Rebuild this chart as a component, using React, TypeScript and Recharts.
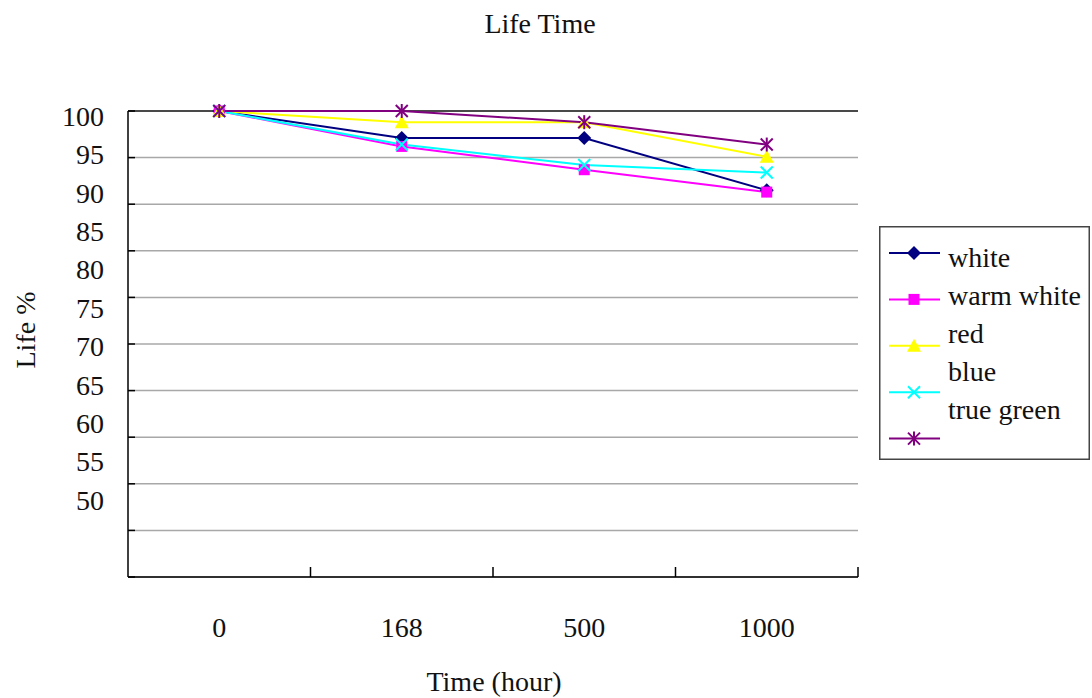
import { CartesianGrid, Legend, Line, LineChart, ReferenceLine, XAxis, YAxis } from "recharts";

const times = ["0", "168", "500", "1000"];
const seriesNames = ["white", "warm white", "red", "blue", "true green"];
const white = [100, 97.1, 97.1, 91.5];
const warmWhite = [100, 96.2, 93.7, 91.3];
const red = [100, 98.8, 98.8, 95.1];
const blue = [100, 96.4, 94.2, 93.4];
const trueGreen = [100, 100, 98.8, 96.4];
const yTicks = [100, 95, 90, 85, 80, 75, 70, 65, 60, 55, 50];

const seriesValues = [white, warmWhite, red, blue, trueGreen];
const seriesColors = ["#000080", "#ff00ff", "#ffff00", "#00ffff", "#800080"];
const seriesShapes = ["diamond", "square", "triangle", "cross", "star"];

const data = times.map((time, i) => {
  const row: Record<string, string | number> = { time };
  seriesNames.forEach((name, s) => {
    row[name] = seriesValues[s][i];
  });
  return row;
});

const FONT = "Liberation Serif, serif";
const W = 1092;
const H = 698;
const PLOT_TOP = 111;
const PLOT_LEFT = 128;
const PLOT_RIGHT = 858;
const PLOT_BOTTOM = 577;
const HALF_BAND = (PLOT_RIGHT - PLOT_LEFT) / times.length / 2;

const Marker = ({ shape, color, cx, cy }: { shape: string; color: string; cx: number; cy: number }) => {
  if (shape === "diamond")
    return <polygon points={`${cx},${cy - 7} ${cx + 7},${cy} ${cx},${cy + 7} ${cx - 7},${cy}`} fill={color} />;
  if (shape === "square") return <rect x={cx - 5.5} y={cy - 5.5} width={11} height={11} fill={color} />;
  if (shape === "triangle")
    return <polygon points={`${cx},${cy - 7} ${cx + 7},${cy + 6} ${cx - 7},${cy + 6}`} fill={color} />;
  return (
    <g stroke={color} strokeWidth={2}>
      <line x1={cx - 6} y1={cy - 6} x2={cx + 6} y2={cy + 6} />
      <line x1={cx - 6} y1={cy + 6} x2={cx + 6} y2={cy - 6} />
      {shape === "star" ? <line x1={cx} y1={cy - 7} x2={cx} y2={cy + 7} /> : null}
    </g>
  );
};

const YTick = (props: any) => {
  const { x, y, payload } = props;
  // labels in the original are squeezed closer than the grid lines
  const ly = PLOT_TOP + 5 + (y - PLOT_TOP) * 0.824;
  return (
    <g>
      <line x1={x} y1={y} x2={x + 7} y2={y} stroke="#000" strokeWidth={1.5} />
      <text x={x - 24} y={ly} dy="0.35em" textAnchor="end" fontFamily="serif" fontSize={28} fill="#111">
        {payload.value}
      </text>
    </g>
  );
};

const XTick = (props: any) => {
  const { x, y, payload } = props;
  return (
    <g>
      <line x1={x + HALF_BAND} y1={y} x2={x + HALF_BAND} y2={y - 10} stroke="#000" strokeWidth={1.5} />
      <text x={x} y={y + 50} dy="0.35em" textAnchor="middle" fontFamily="Liberation Serif" fontSize={28} fill="#111">
        {payload.value}
      </text>
    </g>
  );
};

const LegendBox = () => (
  <svg width={211} height={234} style={{ display: "block" }}>
    <rect x={0.75} y={0.75} width={209.5} height={232.5} fill="#fff" stroke="#444" strokeWidth={1.5} />
    {seriesNames.map((name, i) => {
      const iy = 27 + i * 46.4;
      const ty = 31 + i * 38;
      return (
        <g key={name}>
          <line x1={10} y1={iy} x2={61} y2={iy} stroke={seriesColors[i]} strokeWidth={2} />
          <Marker shape={seriesShapes[i]} color={seriesColors[i]} cx={35} cy={iy} />
          <text x={69} y={ty} dy="0.35em" fontFamily={FONT} fontSize={28} fill="#111">
            {name}
          </text>
        </g>
      );
    })}
  </svg>
);

export default function App() {
  return (
    <div style={{ position: "absolute", left: 0, top: 0, width: W, height: H, background: "#fff", fontFamily: FONT }}>
      <div style={{ position: "absolute", left: 440, top: 8, width: 200, lineHeight: "32px", fontSize: 28, textAlign: "center", color: "#111" }}>
        Life Time
      </div>
      <div style={{ position: "absolute", left: 394, top: 666, width: 200, lineHeight: "32px", fontSize: 28, textAlign: "center", color: "#111" }}>
        Time (hour)
      </div>
      <div
        style={{
          position: "absolute",
          left: 26 - 100,
          top: 330 - 16,
          width: 200,
          lineHeight: "32px",
          fontSize: 28,
          textAlign: "center",
          color: "#111",
          transform: "rotate(-90deg)",
        }}
      >
        Life %
      </div>
      <LineChart
        width={W}
        height={H}
        data={data}
        style={{ fontFamily: FONT }}
        margin={{ top: PLOT_TOP, right: W - PLOT_RIGHT, bottom: 0, left: 0 }}
      >
        <CartesianGrid horizontal vertical={false} stroke="#a8a8a8" strokeWidth={1.5} />
        <XAxis
          dataKey="time"
          height={H - PLOT_BOTTOM}
          padding={{ left: HALF_BAND, right: HALF_BAND }}
          tickLine={false}
          tickSize={0}
          tickMargin={0}
          axisLine={{ stroke: "#000", strokeWidth: 1.5 }}
          tick={<XTick />}
          interval={0}
        />
        <YAxis
          width={PLOT_LEFT}
          domain={[50, 100]}
          ticks={yTicks}
          tickLine={false}
          tickSize={0}
          tickMargin={0}
          axisLine={{ stroke: "#000", strokeWidth: 1.5 }}
          tick={<YTick />}
          interval={0}
        />
        <ReferenceLine y={100} stroke="#222" strokeWidth={1.5} />
        {seriesNames.map((name, i) => (
          <Line
            key={name}
            dataKey={name}
            stroke={seriesColors[i]}
            strokeWidth={2}
            isAnimationActive={false}
            dot={(p: any) => <Marker key={`${name}-${p.index}`} shape={seriesShapes[i]} color={seriesColors[i]} cx={p.cx} cy={p.cy} />}
          />
        ))}
        <Legend
          layout="vertical"
          align="center"
          verticalAlign="middle"
          wrapperStyle={{ left: 879, top: 226, width: 211, height: 234, margin: 0 }}
          content={() => <LegendBox />}
        />
      </LineChart>
    </div>
  );
}
